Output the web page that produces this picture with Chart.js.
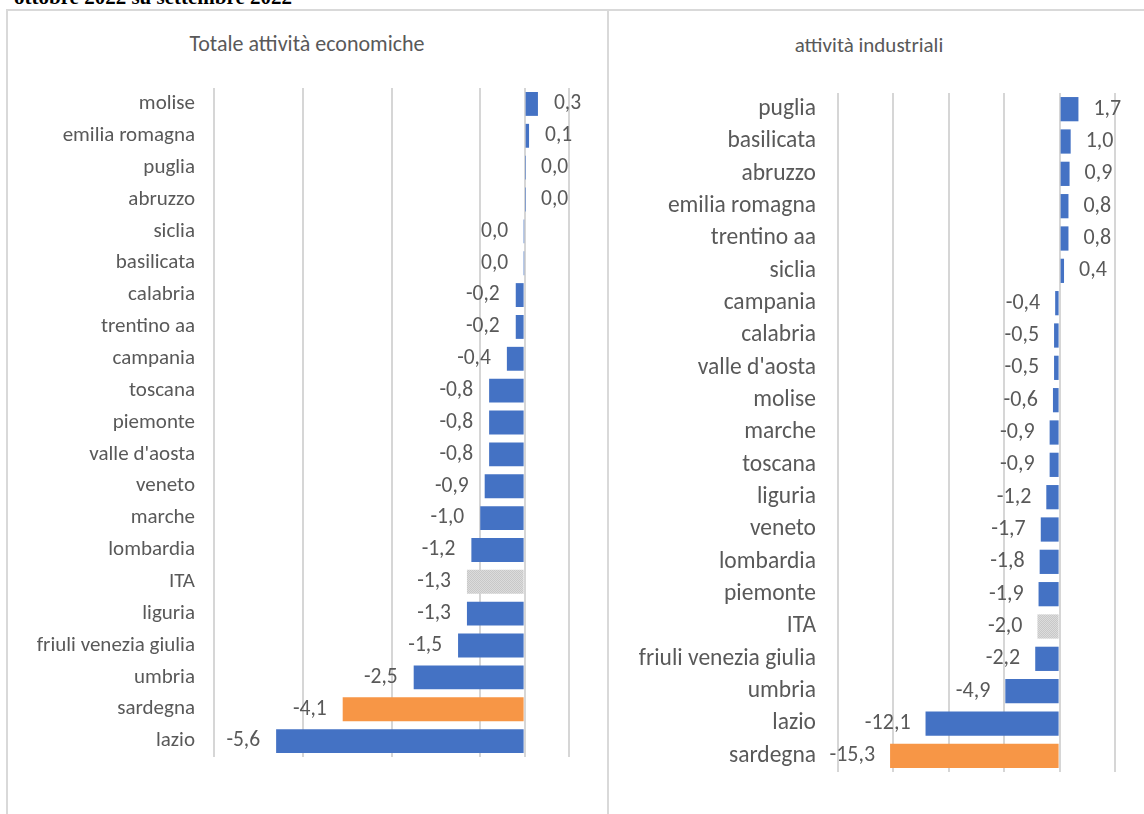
<!DOCTYPE html>
<html>
<head>
<meta charset="utf-8">
<script src="https://cdn.jsdelivr.net/npm/chart.js@4.4.1/dist/chart.umd.min.js"></script>
<style>
  html, body { margin: 0; padding: 0; background: #fff; }
  body { width: 1144px; height: 814px; position: relative; overflow: hidden; }
  #heading {
    position: absolute; left: 14px; top: -13px;
    font: bold 21px "Liberation Serif", "Times New Roman", serif;
    line-height: 21px; color: #000; white-space: nowrap;
  }
  .panel { position: absolute; border: 2px solid #d9d9d9; border-bottom: none; box-sizing: border-box; }
  #leftPanel { left: 6px; top: 9px; width: 603px; height: 820px; }
  #rightPanel { left: 607px; top: 9px; width: 560px; height: 820px; border-right: none; }
  .ptitle {
    position: absolute; width: 400px; text-align: center; color: #595959;
    font-family: Carlito, Calibri, Lato, sans-serif; line-height: 1; white-space: nowrap;
  }
  #leftTitle { left: 107px; top: 33px; font-size: 22px; }
  #rightTitle { left: 669px; top: 35px; font-size: 21px; }
  canvas { position: absolute; }
  #leftWrap { position: absolute; left: 0; top: 0; width: 607px; height: 814px; }
  #rightWrap { position: absolute; left: 609px; top: 0; width: 535px; height: 814px; }
</style>
</head>
<body>
<div id="heading">ottobre 2022 su settembre 2022</div>
<div class="panel" id="leftPanel"></div>
<div class="panel" id="rightPanel"></div>
<div class="ptitle" id="leftTitle">Totale attività economiche</div>
<div class="ptitle" id="rightTitle">attività industriali</div>
<div id="leftWrap"><canvas id="leftChart"></canvas></div>
<div id="rightWrap"><canvas id="rightChart"></canvas></div>

<script>
// --- data: totale attività economiche ---
const totRegions = ['molise', 'emilia romagna', 'puglia', 'abruzzo', 'siclia', 'basilicata',
  'calabria', 'trentino aa', 'campania', 'toscana', 'piemonte', "valle d'aosta", 'veneto',
  'marche', 'lombardia', 'ITA', 'liguria', 'friuli venezia giulia', 'umbria', 'sardegna', 'lazio'];
const totValues = [0.3, 0.1, 0.01, 0.01, -0.01, -0.01, -0.2, -0.2, -0.4, -0.8, -0.8, -0.8, -0.9,
  -1.0, -1.2, -1.3, -1.3, -1.5, -2.5, -4.1, -5.6];
const totTicks = [-7, -5, -3, -1, 0, 1];

// --- data: attività industriali ---
const indRegions = ['puglia', 'basilicata', 'abruzzo', 'emilia romagna', 'trentino aa', 'siclia',
  'campania', 'calabria', "valle d'aosta", 'molise', 'marche', 'toscana', 'liguria', 'veneto',
  'lombardia', 'piemonte', 'ITA', 'friuli venezia giulia', 'umbria', 'lazio', 'sardegna'];
const indValues = [1.7, 1.0, 0.9, 0.8, 0.8, 0.4, -0.4, -0.5, -0.5, -0.6, -0.9, -0.9, -1.2, -1.7,
  -1.8, -1.9, -2.0, -2.2, -4.9, -12.1, -15.3];
const indTicks = [-20, -15, -10, -5, 0, 5];

const BLUE = '#4472C4';
const ORANGE = '#F79646';
const FONT = 'Carlito, Calibri, Lato, sans-serif';
const TEXT = '#595959';

// dotted grey fill used for the national average (ITA)
function itaPattern() {
  const c = document.createElement('canvas');
  c.width = 2; c.height = 2;
  const g = c.getContext('2d');
  g.fillStyle = '#dcdcdc'; g.fillRect(0, 0, 2, 2);
  g.fillStyle = '#c8c8c8'; g.fillRect(0, 0, 1, 1); g.fillRect(1, 1, 1, 1);
  return g.createPattern(c, 'repeat');
}

function barColors(labels) {
  return labels.map(l => l === 'ITA' ? itaPattern() : (l === 'sardegna' ? ORANGE : BLUE));
}

const fmt = v => (Math.round(v * 10) / 10).toFixed(1).replace('.', ',');

// value labels at the bar ends, Excel style
const valueLabels = {
  id: 'valueLabels',
  afterDatasetsDraw(chart, args, opts) {
    const ctx = chart.ctx;
    const ds = chart.data.datasets[0];
    const meta = chart.getDatasetMeta(0);
    ctx.save();
    ctx.font = opts.size + 'px ' + FONT;
    ctx.fillStyle = TEXT;
    ctx.textBaseline = 'middle';
    meta.data.forEach((bar, i) => {
      const v = ds.data[i];
      if (v >= 0) {
        ctx.textAlign = 'left';
        ctx.fillText(fmt(v), bar.x + opts.gap, bar.y);
      } else {
        ctx.textAlign = 'right';
        ctx.fillText(fmt(v), bar.x - opts.gap, bar.y);
      }
    });
    ctx.restore();
  }
};

function makeChart(id, labels, values, ticks, cfg) {
  return new Chart(document.getElementById(id), {
    type: 'bar',
    data: {
      labels: labels,
      datasets: [{
        data: values,
        backgroundColor: barColors(labels),
        borderWidth: 0,
        barPercentage: 0.75,
        categoryPercentage: 1
      }]
    },
    options: {
      indexAxis: 'y',
      responsive: true,
      maintainAspectRatio: false,
      animation: false,
      events: [],
      layout: { padding: { left: 0, right: cfg.padRight, top: cfg.padTop, bottom: cfg.padBottom } },
      plugins: {
        legend: { display: false },
        tooltip: { enabled: false },
        title: { display: false },
        valueLabels: { size: cfg.valueSize, gap: cfg.gap }
      },
      scales: {
        x: {
          min: ticks[0],
          max: ticks[ticks.length - 1],
          afterBuildTicks: s => { s.ticks = ticks.map(v => ({ value: v })); },
          afterFit: s => { s.height = 0; },
          ticks: { display: false },
          border: { display: false },
          grid: { color: '#d6d6d6', lineWidth: 2, drawTicks: false, tickLength: 0 }
        },
        y: {
          afterFit: s => { s.width = cfg.axisWidth; },
          grid: { display: false, drawTicks: false },
          border: { display: false },
          ticks: {
            color: TEXT,
            padding: cfg.tickPad,
            autoSkip: false,
            font: { family: FONT, size: cfg.labelSize }
          }
        }
      }
    },
    plugins: [valueLabels]
  });
}

makeChart('leftChart', totRegions, totValues, totTicks, {
  padRight: 38, padTop: 88, padBottom: 57,
  labelSize: 21, valueSize: 21.5, axisWidth: 214, tickPad: 19, gap: 16
});

makeChart('rightChart', indRegions, indValues, indTicks, {
  padRight: 29, padTop: 93, padBottom: 42,
  labelSize: 23.5, valueSize: 22, axisWidth: 229, tickPad: 22, gap: 15
});
</script>
</body>
</html>
